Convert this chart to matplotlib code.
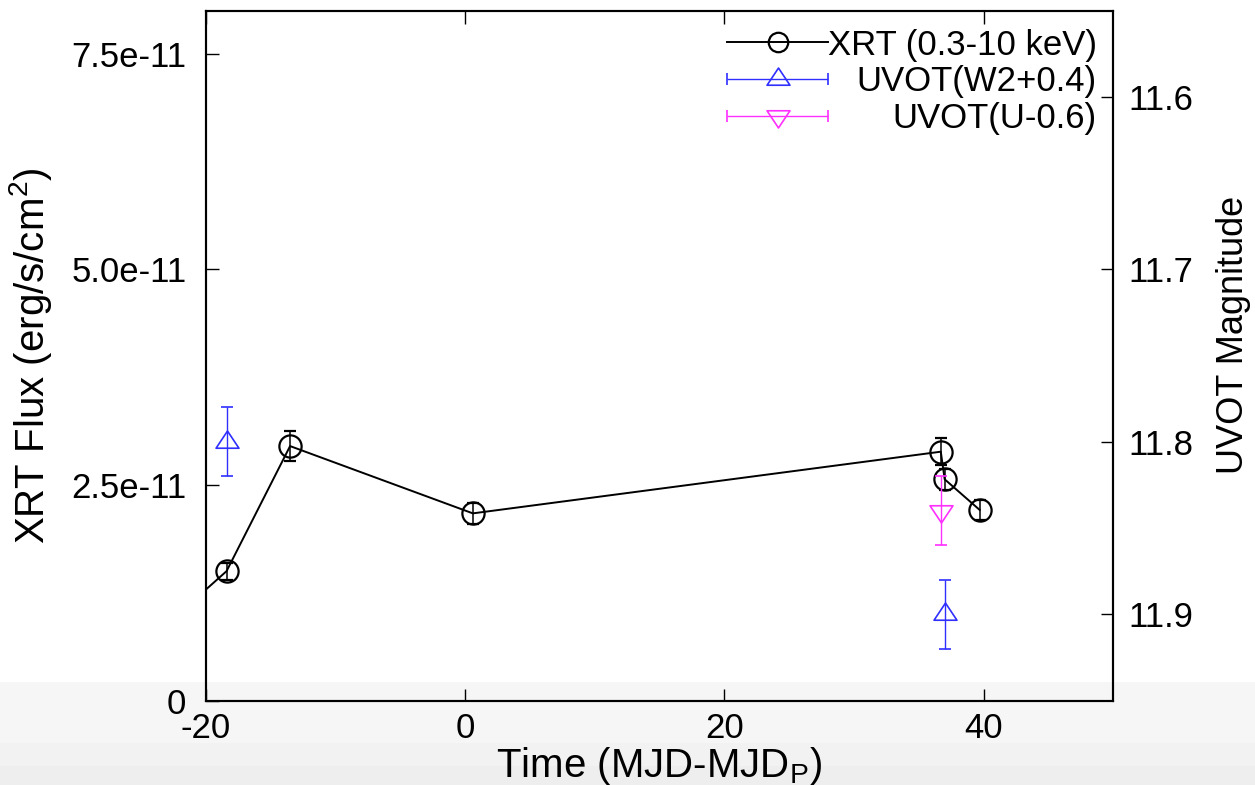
import numpy as np
import matplotlib
matplotlib.use("Agg")
import matplotlib.pyplot as plt
from matplotlib.lines import Line2D
from matplotlib.patches import Rectangle
from matplotlib.path import Path
from matplotlib.legend_handler import HandlerErrorbar

plt.rcParams['font.family'] = ['Liberation Sans', 'DejaVu Sans']
plt.rcParams['axes.unicode_minus'] = False

# XRT light curve (flux in erg/s/cm^2)
xrt_t = [-24.0, -18.4, -13.5, 0.6, 36.7, 37.0, 39.7]
xrt_flux = [0.75e-11, 1.50e-11, 2.95e-11, 2.17e-11, 2.885e-11, 2.565e-11, 2.21e-11]
xrt_err = [1.0e-12, 1.0e-12, 1.7e-12, 1.25e-12, 1.55e-12, 1.2e-12, 1.2e-12]

# UVOT magnitudes (already shifted)
w2_t = [-18.4, 37.05]
w2_mag = [11.80, 11.90]
w2_err = [0.02, 0.02]

u_t = [36.7]
u_mag = [11.84]
u_err = [0.02]

flux_ticks = [0, 2.5e-11, 5.0e-11, 7.5e-11]
flux_labels = ['0', '2.5e-11', '5.0e-11', '7.5e-11']
mag_ticks = [11.6, 11.7, 11.8, 11.9]
time_ticks = [-20, 0, 20, 40]

fig = plt.figure(figsize=(12.55, 7.85), dpi=100)
fig.patch.set_facecolor('white')
# screenshot grey band at the bottom
for y0, h, c in [(0.0, 0.024, '#eeeeee'), (0.024, 0.030, '#f2f2f2'), (0.054, 0.077, '#f6f6f6')]:
    fig.add_artist(Rectangle((0, y0), 1, h, transform=fig.transFigure,
                             facecolor=c, edgecolor='none', zorder=-1))

ax = fig.add_axes([0.164, 0.1076, 0.723, 0.879])
ax.patch.set_visible(False)
ax2 = ax.twinx()

# XRT
ax.errorbar(xrt_t, xrt_flux, yerr=xrt_err, color='black', lw=1.4, elinewidth=1.1,
            capsize=4, capthick=1.1, marker='o', ms=16, mfc='none', mec='black',
            mew=1.6, zorder=3)

tri_up = Path([(0, 1), (-1, -0.5), (1, -0.5), (0, 1)], closed=True)
tri_dn = Path([(0, -1), (-1, 0.5), (1, 0.5), (0, -1)], closed=True)

ax2.errorbar(w2_t, w2_mag, yerr=w2_err, color='#2f2fff', ls='none', elinewidth=1.0,
             capsize=4, capthick=1.0, marker=tri_up, ms=16.5, mfc='none',
             mec='#2f2fff', mew=1.2)
ax2.errorbar(u_t, u_mag, yerr=u_err, color='#ff2fff', ls='none', elinewidth=1.0,
             capsize=4, capthick=1.0, marker=tri_dn, ms=16.5, mfc='none',
             mec='#ff2fff', mew=1.2)

ax.set_xlim(-20, 50)
ax.set_ylim(0, 8e-11)
ax2.set_ylim(11.95, 11.55)

ax.set_xticks(time_ticks)
ax.set_yticks(flux_ticks)
ax.set_yticklabels(flux_labels)
ax2.set_yticks(mag_ticks)

ax.tick_params(axis='x', direction='in', length=9, width=1, labelsize=25, pad=8,
               top=True)
ax.tick_params(axis='y', direction='in', length=9, width=1, labelsize=25, pad=14,
               right=False)
ax2.tick_params(axis='y', direction='in', length=9, width=1, labelsize=25, pad=11)
for a in (ax, ax2):
    for s in a.spines.values():
        s.set_linewidth(1.5)

ax.set_xlabel('Time (MJD-MJD$_\\mathregular{P}$)', fontsize=29, labelpad=0)
ax.set_ylabel('XRT Flux (erg/s/cm$^\\mathregular{2}$)', fontsize=29, labelpad=12)
ax2.set_ylabel('UVOT Magnitude', fontsize=26, labelpad=16)
ax2.yaxis.label.set_y(0.53)

# legend proxies (gnuplot style with horizontal error bars)
h_xrt = Line2D([], [], color='black', lw=1.4, marker='o', ms=14, mfc='none',
               mec='black', mew=1.6)
h_w2 = ax2.errorbar([np.nan], [np.nan], xerr=[1], color='#2f2fff', ls='none',
                    elinewidth=1.0, capsize=4, marker=tri_up, ms=16.5, mfc='none',
                    mec='#2f2fff', mew=1.2)
h_u = ax2.errorbar([np.nan], [np.nan], xerr=[1], color='#ff2fff', ls='none',
                   elinewidth=1.0, capsize=4, marker=tri_dn, ms=16.5, mfc='none',
                   mec='#ff2fff', mew=1.2)

leg = ax2.legend([h_xrt, h_w2, h_u],
                 ['XRT (0.3-10 keV)', 'UVOT(W2+0.4)', 'UVOT(U-0.6)'],
                 loc='upper right', bbox_to_anchor=(1.005, 1.004), frameon=False,
                 fontsize=25, handlelength=2.9, handletextpad=0.0,
                 labelspacing=0.11, borderaxespad=0.2,
                 handler_map={type(h_w2): HandlerErrorbar(xerr_size=1.45)})

# right-align legend texts like gnuplot
fig.canvas.draw()
texts = leg.get_texts()
widths = [t.get_window_extent().width for t in texts]
wmax = max(widths)
for t, w in zip(texts, widths):
    t.set_x(wmax - w)

fig.savefig('out.png', dpi=100)
